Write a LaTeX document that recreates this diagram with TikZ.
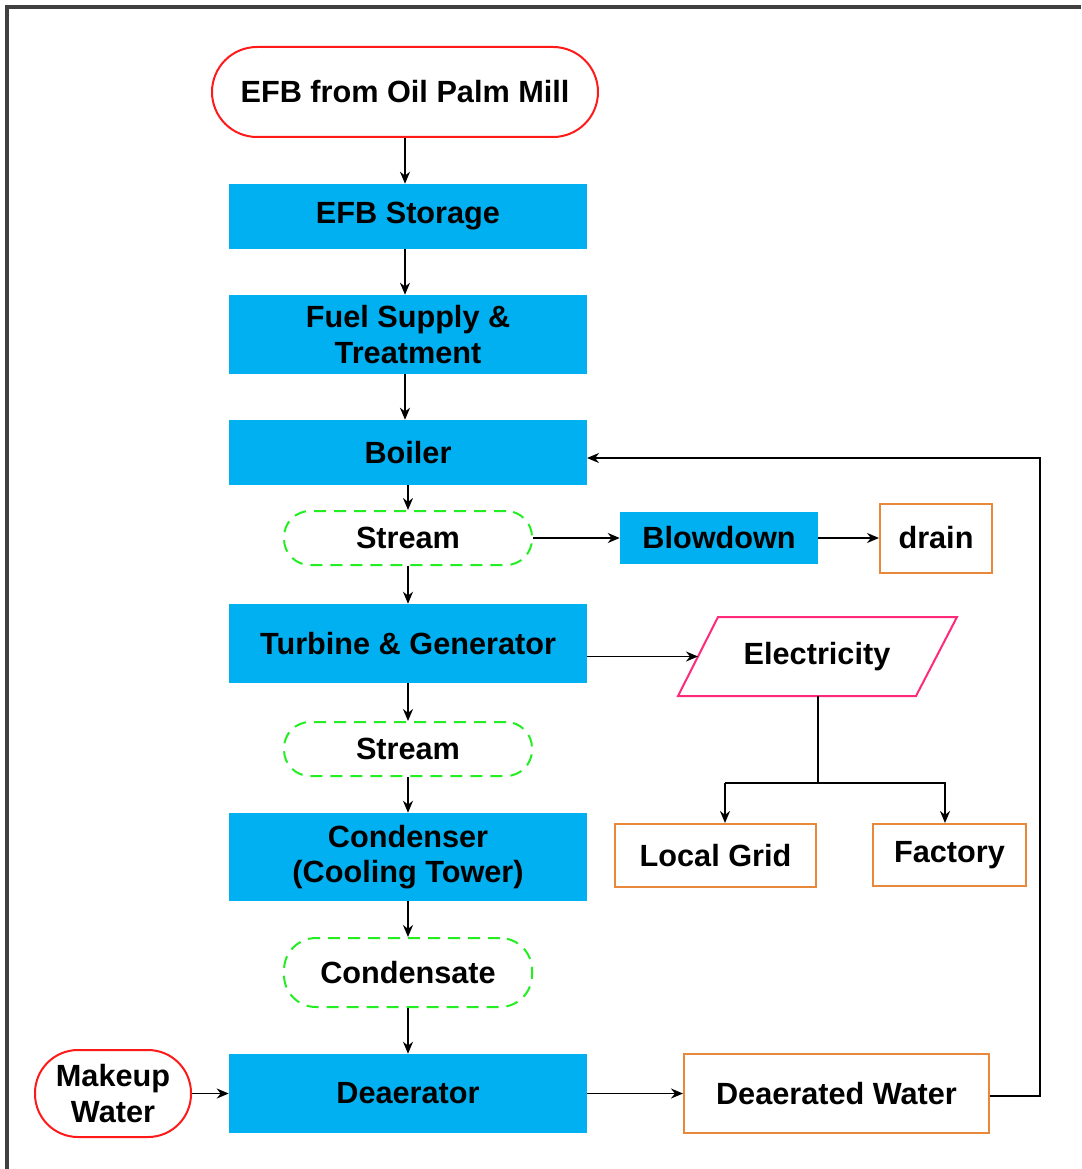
\documentclass[tikz,border=0pt]{standalone}
\usepackage{fontspec}
\setmainfont{Liberation Sans}
\usetikzlibrary{arrows.meta}
\definecolor{procblue}{HTML}{00B0F0}
\definecolor{termred}{HTML}{FF1A1A}
\definecolor{flowgreen}{HTML}{22EE22}
\definecolor{outorange}{HTML}{E8883A}
\definecolor{elecpink}{HTML}{FF2A7A}
\definecolor{framegray}{HTML}{404040}
\begin{document}
\begin{tikzpicture}[x=0.75pt,y=-0.75pt,
  every node/.style={font=\fontsize{23}{26.5}\selectfont\bfseries,
    align=center, inner sep=0pt, text=black},
  proc/.style={fill=procblue, minimum width={358*0.75pt}},
  term/.style={draw=termred, line width=1.5pt, fill=white},
  flow/.style={draw=flowgreen, line width=1.5pt, dashed,
    dash pattern=on 9pt off 6pt, rounded corners={26*0.75pt},
    minimum width={248*0.75pt}},
  sink/.style={draw=outorange, line width=1.5pt},
  arr/.style={line width=1.4pt, -{Stealth[length=9pt,width=7.5pt]}},
  wire/.style={line width=1.4pt}]
\useasboundingbox (0,0) rectangle (1081,1169);
% page frame
\draw[framegray, line width=2.5pt] (7,1169) -- (7,7) -- (1081,7);

% main process column
\node[term, rounded corners={45*0.75pt}, minimum width={386*0.75pt},
  minimum height={90*0.75pt}] (mill) at (405,92) {EFB from Oil Palm Mill};
\node[proc, minimum height={65*0.75pt}] (stor) at (408,216.5) {EFB Storage};
\node[proc, minimum height={79*0.75pt}] (fuel) at (408,334.5) {Fuel Supply \&\\Treatment};
\node[proc, minimum height={65*0.75pt}] (boil) at (408,452.5) {Boiler};
\node[flow, minimum height={54*0.75pt}] (st1) at (408,538) {Stream};
\node[proc, minimum height={79*0.75pt}] (turb) at (408,643.5) {Turbine \& Generator};
\node[flow, minimum height={54*0.75pt}] (st2) at (408,749) {Stream};
\node[proc, minimum height={88*0.75pt}] (cond) at (408,857) {Condenser\\(Cooling Tower)};
\node[flow, rounded corners={32*0.75pt}, minimum height={69*0.75pt}] (cdst) at (408,972.5) {Condensate};
\node[proc, minimum height={79*0.75pt}] (deae) at (408,1093.5) {Deaerator};

% side branches
\node[fill=procblue, minimum width={198*0.75pt}, minimum height={52*0.75pt}] (blow) at (719,538) {Blowdown};
\node[sink, minimum width={112*0.75pt}, minimum height={69*0.75pt}] (drain) at (936,538) {drain};

% electricity output (parallelogram drawn around its label)
\draw[elecpink, line width=1.5pt] (718,617) -- (957,617) -- (916,696) -- (678,696) -- cycle;
\node (elec) at (817,656.5) {Electricity};
\coordinate (elecin) at (698,656.5);
\coordinate (elecout) at (818,696);

\node[sink, minimum width={201*0.75pt}, minimum height={63*0.75pt}] (grid) at (715.5,855.5) {Local Grid};
\node[sink, minimum width={153*0.75pt}, minimum height={62*0.75pt}] (fact) at (949.5,855) {Factory};
\node[term, rounded corners={43*0.75pt}, minimum width={156*0.75pt},
  minimum height={87*0.75pt}, font=\fontsize{23}{26.5}\selectfont\bfseries] (make) at (113,1093.5) {Makeup\\Water};
\node[sink, minimum width={305*0.75pt}, minimum height={79*0.75pt}] (dwat) at (836.5,1093.5) {Deaerated Water};

% helper points
\coordinate (split) at (818,783);
\coordinate (gridin) at (725,783);
\coordinate (factin) at (945,783);
\coordinate (turbout) at (587,656.5);
\coordinate (retA) at (1040,1096);
\coordinate (retB) at (1040,458);
\coordinate (boilin) at (587,458);

% vertical flow
\draw[arr] (mill.south) -- (mill.south |- stor.north);
\draw[arr] (mill.south |- stor.south) -- (mill.south |- fuel.north);
\draw[arr] (mill.south |- fuel.south) -- (mill.south |- boil.north);
\draw[arr] (boil) -- (st1);
\draw[arr] (st1) -- (turb);
\draw[arr] (turb) -- (st2);
\draw[arr] (st2) -- (cond);
\draw[arr] (cond) -- (cdst);
\draw[arr] (cdst) -- (deae);

% horizontal flow
\draw[arr] (st1.east) -- (blow.west);
\draw[arr] (blow.east) -- (drain.west);
\draw[arr] (turbout) -- (elecin);
\draw[arr] (make.east) -- (deae.west);
\draw[arr] (deae.east) -- (dwat.west);

% electricity distribution
\draw[wire] (elecout) -- (split);
\draw[arr] (gridin) -- (factin |- gridin) -- (factin |- fact.north);
\draw[arr] (gridin) -- (gridin |- grid.north);

% feed-water return to boiler
\draw[arr] (dwat.east |- retA) -- (retA) -- (retB) -- (boilin);
\end{tikzpicture}
\end{document}
